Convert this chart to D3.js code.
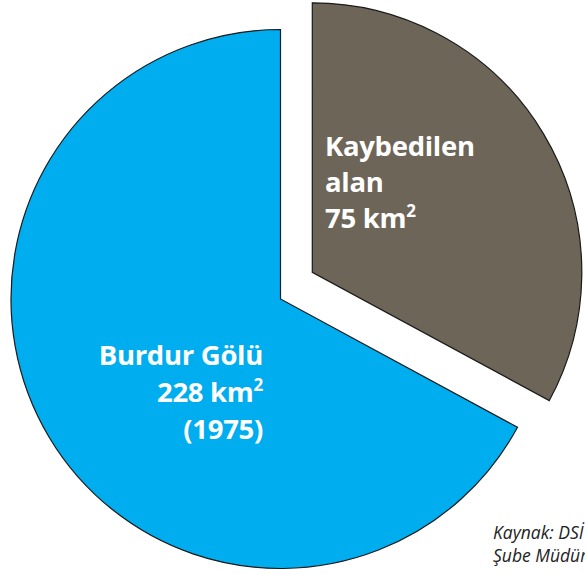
<!DOCTYPE html>
<html>
<head>
<meta charset="utf-8">
<script src="https://cdn.jsdelivr.net/npm/d3@7"></script>
<style>
  body { margin: 0; background: #fff; }
  svg { display: block; }
</style>
</head>
<body>
<div class="chart"></div>
<script>
// dilimler: kaybedilen alan + kalan alan (toplam 228 km2)
let categories = ["Kaybedilen alan", "Burdur Gölü"];
let values = [75, 153];
let colors = ["#6e6559", "#00adef"];

let lostLines = ["Kaybedilen", "alan", "75 km"];
let lakeLines = ["Burdur Gölü", "228 km", "(1975)"];
let sourceLines = ["Kaynak: DSİ", "Şube Müdürlüğü"];

let width = 585, height = 574;
let cx = 280.5, cy = 299, radius = 269.5;
let explode = [31.8, -26.7];

let svg = d3.select(".chart").append("svg")
  .attr("width", width)
  .attr("height", height);

let pie = d3.pie().sort(null).value(d => d);
let arcs = pie(values);
let arc = d3.arc().innerRadius(0).outerRadius(radius);

let g = svg.append("g").attr("transform", `translate(${cx},${cy})`);

g.selectAll("path")
  .data(arcs)
  .enter().append("path")
  .attr("d", arc)
  .attr("fill", (d, i) => colors[i])
  .attr("stroke", "#1a1a1a")
  .attr("stroke-width", 1.2)
  .attr("stroke-linejoin", "miter")
  .attr("transform", (d, i) => i === 0 ? `translate(${explode[0]},${explode[1]})` : null);

let font = "'Open Sans', 'Noto Sans', sans-serif";

// etiket: kaybedilen alan (sola hizali)
let lost = svg.append("g")
  .attr("font-family", font)
  .attr("font-weight", 700)
  .attr("font-size", 27.5)
  .attr("fill", "#fff");
lostLines.forEach((t, i) => {
  let tx = lost.append("text")
    .attr("x", 325)
    .attr("y", 156 + i * 36)
    .attr("letter-spacing", -0.3)
    .text(t);
  if (i === 2) tx.append("tspan").attr("dy", -11).attr("font-size", 17).text("2");
});

// etiket: Burdur Golu (saga hizali)
let lake = svg.append("g")
  .attr("font-family", font)
  .attr("font-weight", 700)
  .attr("font-size", 27.5)
  .attr("fill", "#fff")
  .attr("text-anchor", "end");
lakeLines.forEach((t, i) => {
  let tx = lake.append("text")
    .attr("x", 263)
    .attr("y", 365 + i * 37)
    .attr("letter-spacing", -0.3)
    .text(t);
  if (i === 1) tx.append("tspan").attr("dy", -11).attr("font-size", 17).text("2");
});

// kaynak (resimde sag kenarda kesik)
svg.append("g")
  .attr("font-family", font)
  .attr("font-style", "italic")
  .attr("font-size", 17.5)
  .attr("fill", "#222")
  .selectAll("text")
  .data(sourceLines)
  .enter().append("text")
  .attr("x", 493)
  .attr("y", (d, i) => 539 + i * 23)
  .text(d => d);
</script>
</body>
</html>
